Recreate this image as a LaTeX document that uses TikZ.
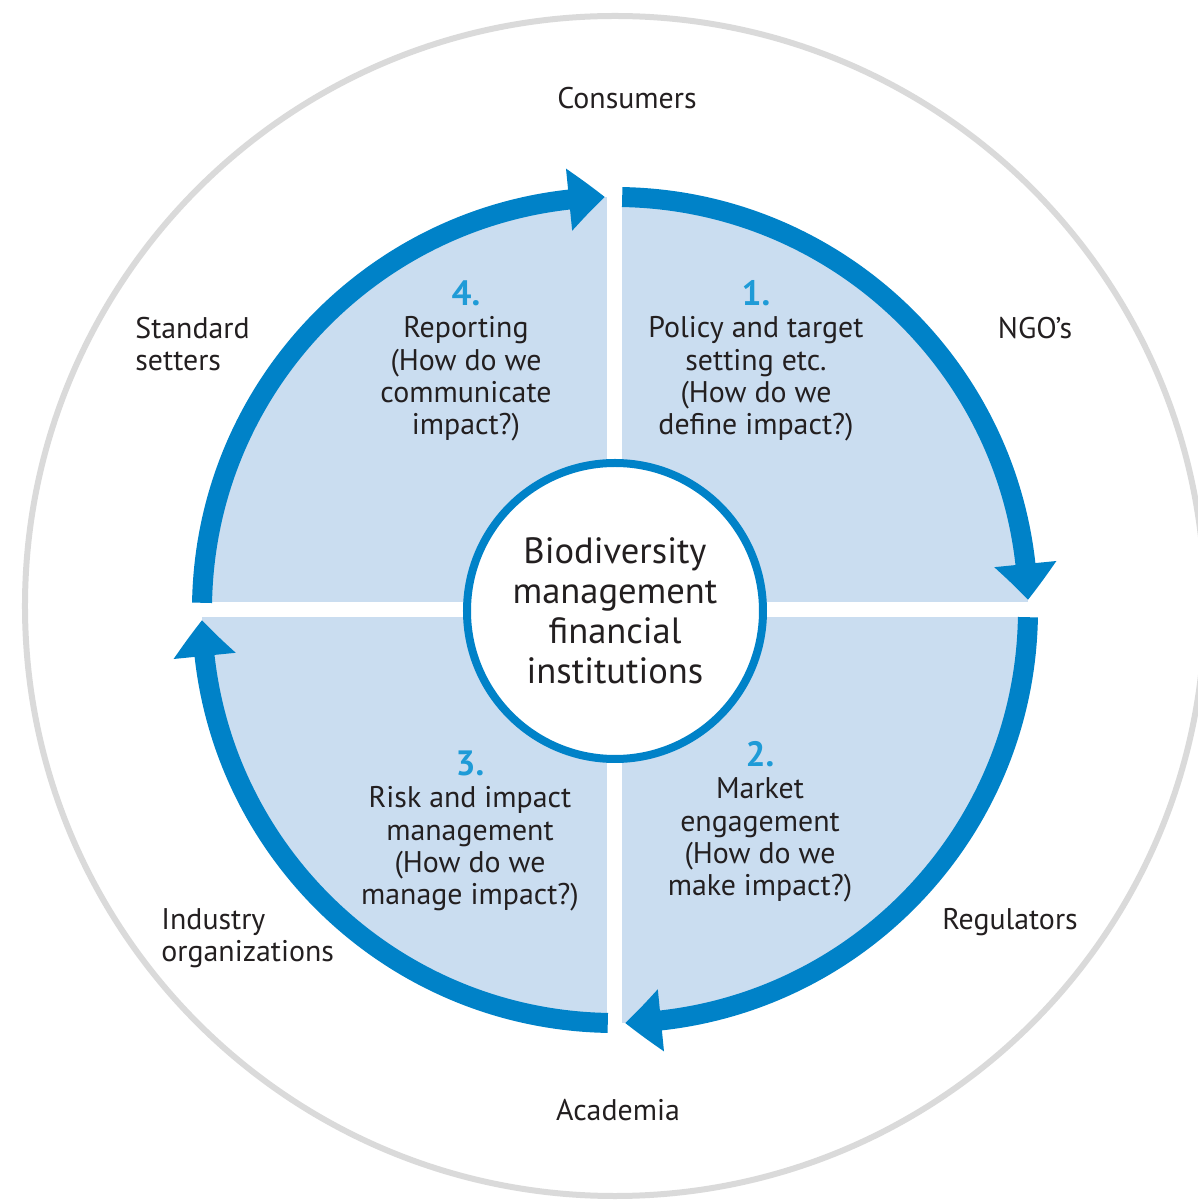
\documentclass[tikz,border=0pt]{standalone}
\usepackage{fontspec}
\setmainfont{PT Sans}
\usetikzlibrary{arrows.meta,bending}
\definecolor{ringblue}{RGB}{0,130,200}
\definecolor{numblue}{RGB}{30,155,215}
\definecolor{fillblue}{RGB}{202,221,240}
\definecolor{rimgray}{RGB}{218,218,218}
\definecolor{txt}{RGB}{35,31,32}
\begin{document}
\begin{tikzpicture}[>={Triangle[width=6mm,length=3.6mm,bend]},
  lbl/.style={font=\fontsize{8.5}{9.2}\selectfont,text=txt,align=center}]
            \useasboundingbox (-6.15,-5.91) rectangle (5.82,6.10);
            \draw[rimgray,line width=0.6mm] (0,0.04) circle (5.9);
            \fill[fillblue] (0,0) circle (4.13);
            \draw[white,line width=1.5mm] (0,-4.3)--(0,4.3) (-4.3,0)--(4.3,0);
            \draw[ringblue,line width=2mm,->] (89:4.13) arc (89:1.4:4.13);
            \draw[ringblue,line width=2mm,->] (-1:4.13) arc (-1:-88.6:4.13);
            \draw[ringblue,line width=2mm,->] (-91:4.13) arc (-91:-178.6:4.13);
            \draw[ringblue,line width=2mm,->] (179:4.13) arc (179:91.4:4.13);
            \node[circle,draw=ringblue,line width=0.8mm,fill=white,minimum size=2.96cm,
                align=center,text=txt,font=\fontsize{10.4}{11.4}\selectfont] (core) at (0,-0.01)
                {Biodiversity\\management\\financial\\institutions};
            \node[lbl] (q1) at (1.41,2.49) {{\color{numblue}\fontsize{10}{9.2}\selectfont\bfseries 1.}\\Policy and target\\setting etc.\\(How do we\\define impact?)};
            \node[lbl] (q2) at (1.45,-2.12) {{\color{numblue}\fontsize{10}{9.2}\selectfont\bfseries 2.}\\Market\\engagement\\(How do we\\make impact?)};
            \node[lbl] (q3) at (-1.45,-2.21) {{\color{numblue}\fontsize{10}{9.2}\selectfont\bfseries 3.}\\Risk and impact\\management\\(How do we\\manage impact?)};
            \node[lbl] (q4) at (-1.49,2.49) {{\color{numblue}\fontsize{10}{9.2}\selectfont\bfseries 4.}\\Reporting\\(How do we\\communicate\\impact?)};
            \node[lbl] (consumers) at (0.12,5.12) {Consumers};
            \node[lbl] (ngos) at (4.20,2.82) {NGO’s};
            \node[lbl] (regulators) at (3.95,-3.12) {Regulators};
            \node[lbl] (academia) at (0.03,-5.00) {Academia};
            \node[lbl,anchor=west,align=left] (standard) at (-4.92,2.66) {Standard\\setters};
            \node[lbl,anchor=west,align=left] (industry) at (-4.66,-3.28) {Industry\\organizations};
        \end{tikzpicture}
\end{document}
